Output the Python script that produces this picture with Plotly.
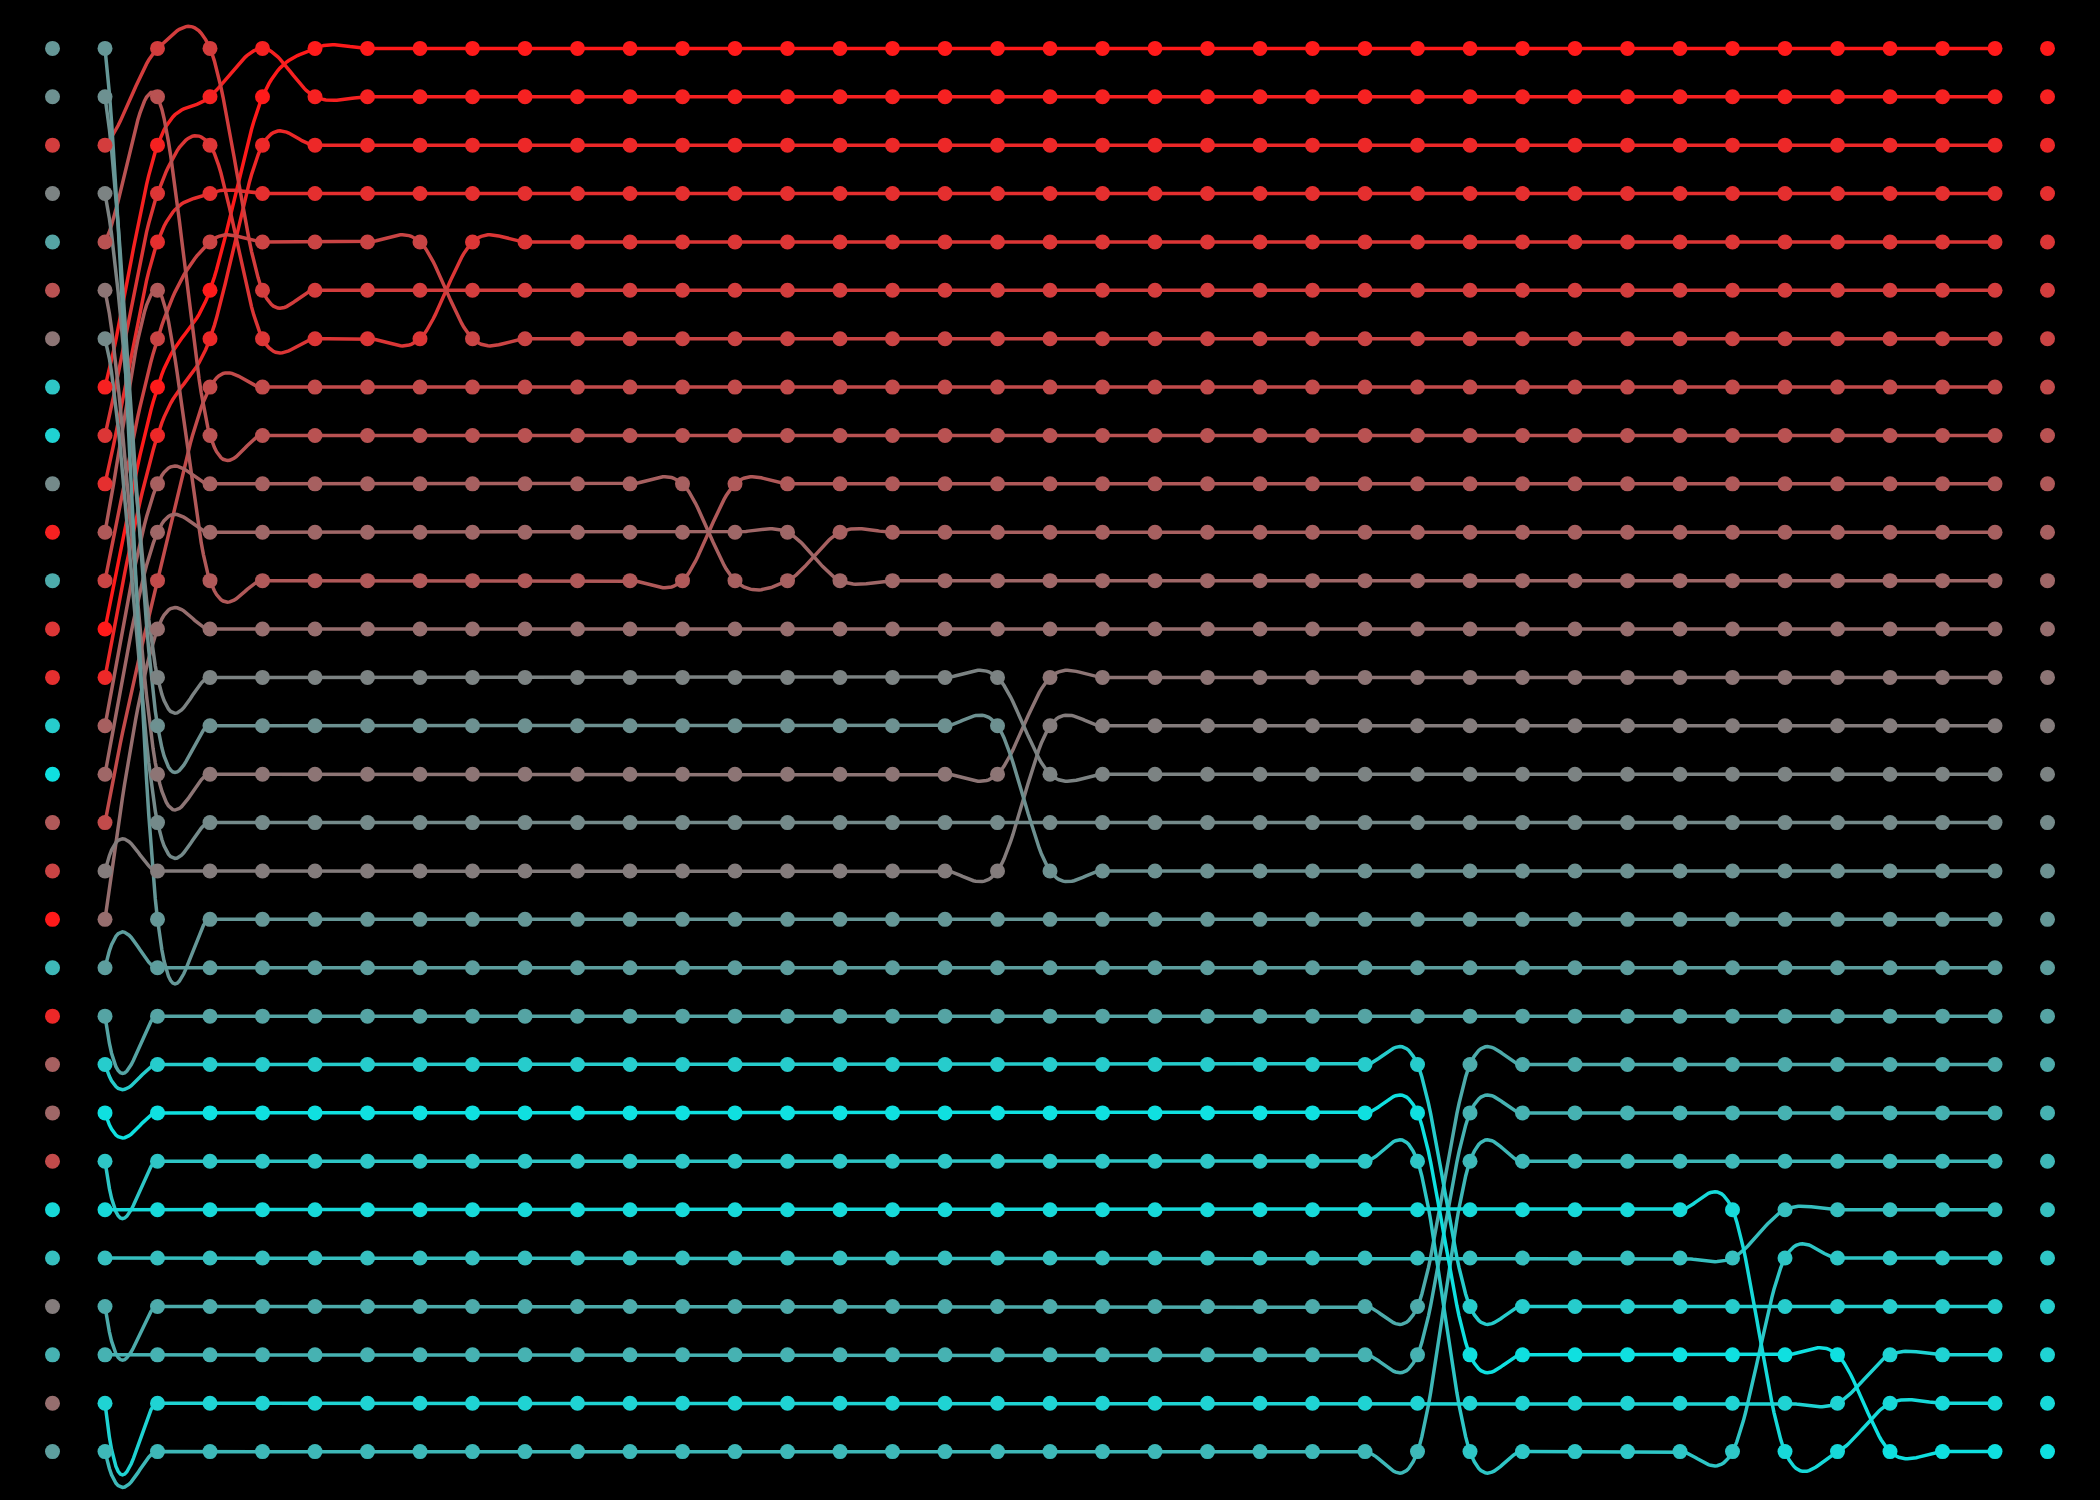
import plotly.graph_objects as go

# ---------------- data ----------------
# Each item is identified by its final sorted rank (0 = top, 29 = bottom).
# Array states (item id listed top row -> bottom row).
n_items = 30

snapshots = {
    0:  [18, 17, 5, 15, 20, 8, 13, 25, 27, 16, 1, 21, 4, 3, 26, 29, 9, 6, 0, 23, 2, 10, 11, 7, 28, 24, 14, 22, 12, 19],
    1:  [18, 17, 5, 15, 8, 13, 16, 1, 4, 3, 9, 6, 0, 2, 10, 11, 7, 14, 12, 19, 20, 26, 29, 25, 28, 24, 21, 22, 27, 23],
    2:  [5, 8, 1, 4, 3, 9, 6, 0, 2, 10, 11, 7, 12, 15, 17, 13, 16, 14, 18, 19, 20, 26, 29, 25, 28, 24, 21, 22, 27, 23],
    3:  [5, 1, 4, 3, 6, 0, 2, 7, 8, 10, 11, 9, 12, 15, 17, 13, 16, 14, 18, 19, 20, 26, 29, 25, 28, 24, 21, 22, 27, 23],
    4:  [1, 0, 2, 3, 6, 5, 4, 7, 8, 10, 11, 9, 12, 15, 17, 13, 16, 14, 18, 19, 20, 26, 29, 25, 28, 24, 21, 22, 27, 23],
    5:  [0, 1, 2, 3, 6, 5, 4, 7, 8, 10, 11, 9, 12, 15, 17, 13, 16, 14, 18, 19, 20, 26, 29, 25, 28, 24, 21, 22, 27, 23],
    8:  [0, 1, 2, 3, 4, 5, 6, 7, 8, 10, 11, 9, 12, 15, 17, 13, 16, 14, 18, 19, 20, 26, 29, 25, 28, 24, 21, 22, 27, 23],
    13: [0, 1, 2, 3, 4, 5, 6, 7, 8, 9, 11, 10, 12, 15, 17, 13, 16, 14, 18, 19, 20, 26, 29, 25, 28, 24, 21, 22, 27, 23],
    15: [0, 1, 2, 3, 4, 5, 6, 7, 8, 9, 10, 11, 12, 15, 17, 13, 16, 14, 18, 19, 20, 26, 29, 25, 28, 24, 21, 22, 27, 23],
    19: [0, 1, 2, 3, 4, 5, 6, 7, 8, 9, 10, 11, 12, 13, 14, 15, 16, 17, 18, 19, 20, 26, 29, 25, 28, 24, 21, 22, 27, 23],
    27: [0, 1, 2, 3, 4, 5, 6, 7, 8, 9, 10, 11, 12, 13, 14, 15, 16, 17, 18, 19, 20, 21, 22, 23, 28, 24, 26, 29, 27, 25],
    33: [0, 1, 2, 3, 4, 5, 6, 7, 8, 9, 10, 11, 12, 13, 14, 15, 16, 17, 18, 19, 20, 21, 22, 23, 24, 25, 26, 29, 27, 28],
    35: [0, 1, 2, 3, 4, 5, 6, 7, 8, 9, 10, 11, 12, 13, 14, 15, 16, 17, 18, 19, 20, 21, 22, 23, 24, 25, 26, 27, 28, 29],
}

# which array state is shown in each of the 39 columns
snapshot_for_step = [0, 1, 2, 3, 4, 5, 5, 5, 8, 8, 8, 8, 8, 13, 13, 15, 15, 15, 15,
                     19, 19, 19, 19, 19, 19, 19, 19, 27, 27, 27, 27, 27, 27, 33, 33,
                     35, 35, 35, 35]

first_line_step = 1
last_line_step = 37

# ---------------- styles ----------------
RED = (255, 26, 26)
GREY = (128, 128, 128)
CYAN = (15, 224, 224)
LINE_W = 3.5
DOT_SIZE = 15


def item_color(v):
    mid = (n_items - 1) / 2.0
    if v <= mid:
        a, b, t = RED, GREY, v / mid
    else:
        a, b, t = GREY, CYAN, (v - mid) / mid
    c = [round(a[i] + (b[i] - a[i]) * t) for i in range(3)]
    return "rgb({},{},{})".format(*c)


n_steps = len(snapshot_for_step)
orders = [snapshots[s] for s in snapshot_for_step]


def row_of(item, step):
    return orders[step].index(item)


def cardinal_path(pts, seg_from, seg_to, samples=24):
    xs, ys = [], []
    for k in range(seg_from, seg_to + 1):
        p0 = pts[max(k - 1, 0)]
        p1 = pts[k]
        p2 = pts[k + 1]
        p3 = pts[min(k + 2, len(pts) - 1)]
        c1 = (p1[0] + (p2[0] - p0[0]) / 6.0, p1[1] + (p2[1] - p0[1]) / 6.0)
        c2 = (p2[0] - (p3[0] - p1[0]) / 6.0, p2[1] - (p3[1] - p1[1]) / 6.0)
        n = samples + (1 if k == seg_to else 0)
        for i in range(n):
            t = i / samples
            u = 1 - t
            b0, b1, b2, b3 = u * u * u, 3 * u * u * t, 3 * u * t * t, t * t * t
            xs.append(b0 * p1[0] + b1 * c1[0] + b2 * c2[0] + b3 * p2[0])
            ys.append(b0 * p1[1] + b1 * c1[1] + b2 * c2[1] + b3 * p2[1])
    return xs, ys


fig = go.Figure()

# lines (one per item), visible from the first to the last line step
for item in range(n_items):
    pts = [(s, row_of(item, s)) for s in range(n_steps)]
    xs, ys = cardinal_path(pts, first_line_step, last_line_step - 1)
    fig.add_trace(go.Scatter(
        x=xs, y=ys, mode="lines",
        line=dict(color=item_color(item), width=LINE_W),
        hoverinfo="skip", showlegend=False,
    ))

# dots for every column
mx, my, mc = [], [], []
for s in range(n_steps):
    for r, item in enumerate(orders[s]):
        mx.append(s)
        my.append(r)
        mc.append(item_color(item))
fig.add_trace(go.Scatter(
    x=mx, y=my, mode="markers",
    marker=dict(size=DOT_SIZE, color=mc, line=dict(width=0)),
    hoverinfo="skip", showlegend=False,
))

fig.update_layout(
    width=2100, height=1500,
    margin=dict(l=0, r=0, t=0, b=0),
    paper_bgcolor="black", plot_bgcolor="black",
    xaxis=dict(range=[-1, 39], visible=False, showgrid=False, zeroline=False),
    yaxis=dict(range=[30, -1], visible=False, showgrid=False, zeroline=False),
    showlegend=False,
)

fig.write_html("out.html")
